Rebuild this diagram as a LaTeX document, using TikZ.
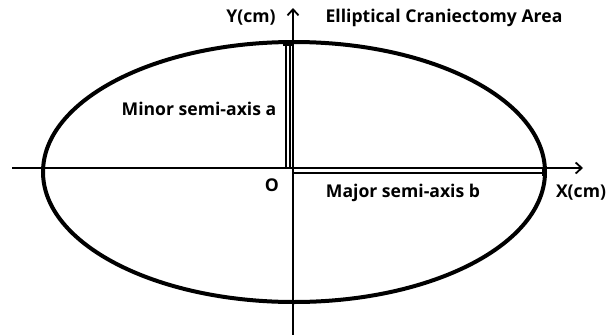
\documentclass[tikz,border=0pt]{standalone}
\usepackage{fontspec}
\setmainfont{Open Sans}
\usepackage{tikz}
\usetikzlibrary{positioning,arrows.meta,calc}
\tikzset{
  axisline/.style={line width=1.8pt,-{Straight Barb[length=6pt,width=11pt,line width=1.8pt]}},
  lbl/.style={font=\bfseries\fontsize{17.6}{19}\selectfont,inner sep=0pt}
}

\begin{document}
\begin{tikzpicture}[x=1pt,y=-1pt]
\useasboundingbox (0,0) rectangle (614,335);
\coordinate (O) at (293,168);
\coordinate (xs) at (12,168);
\coordinate (xe) at (583,168);
\coordinate (ys) at (293,335);
\coordinate (ye) at (293,8);
\draw[line width=4pt] (294,172) ellipse [x radius=251, y radius=130];
\draw[axisline] (xs) -- (xe);
\draw[axisline] (ys) -- (ye);
% semi-axes
\draw[line width=1.8pt] (286,45) rectangle (290,168);
\draw[line width=1.8pt] (283,45) -- (293,45);
\draw[line width=1.8pt] (O) rectangle (543,173);
\draw[line width=1.8pt] (543,168) -- (543,176);
\node[lbl] (ylab) at (251,18) {Y(cm)};
\node[lbl] (title) at (444,18) {Elliptical Craniectomy Area};
\node[lbl] (minor) at (199,109) {Minor semi-axis a};
\node[lbl] (olab) at (272,185) {O};
\node[lbl] (major) at (403,193) {Major semi-axis b};
\node[lbl] (xlab) at (581,193) {X(cm)};
\end{tikzpicture}
\end{document}
